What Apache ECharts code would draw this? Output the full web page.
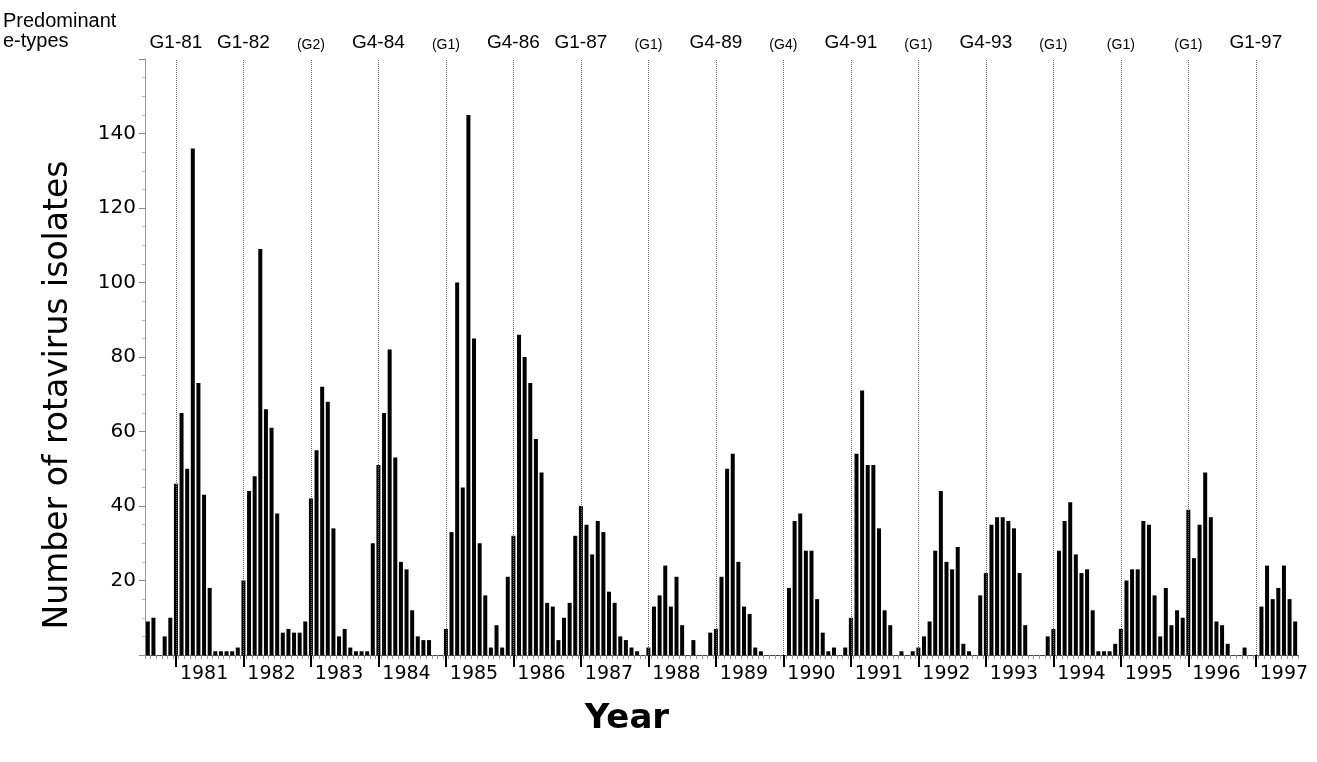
<!DOCTYPE html>
<html>
<head>
<meta charset="utf-8">
<script src="https://cdn.jsdelivr.net/npm/echarts@6/dist/echarts.min.js"></script>
<style>
html,body{margin:0;padding:0;background:#fff;}
#chart{width:1317px;height:762px;}
</style>
</head>
<body>
<div id="chart"></div>
<script>
// Monthly categories, July 1980 .. July 1997
const startYear = 1980, startMonth = 7, monthCount = 205;
const categories = [];
for (let i = 0; i < monthCount; i++) {
  const m0 = startMonth - 1 + i;
  const y = startYear + Math.floor(m0 / 12);
  const m = (m0 % 12) + 1;
  categories.push(y + '-' + (m < 10 ? '0' + m : '' + m));
}

// Number of rotavirus isolates per month
const isolates = [
  9,10,0,5,10,46,65,50,136,73,43,18,
  1,1,1,1,2,20,44,48,109,66,61,38,
  6,7,6,6,9,42,55,72,68,34,5,7,
  2,1,1,1,30,51,65,82,53,25,23,12,
  5,4,4,0,0,7,33,100,45,145,85,30,
  16,2,8,2,21,32,86,80,73,58,49,14,
  13,4,10,14,32,40,35,27,36,33,17,14,
  5,4,2,1,0,2,13,16,24,13,21,8,
  0,4,0,0,6,7,21,50,54,25,13,11,
  2,1,0,0,0,0,18,36,38,28,28,15,
  6,1,2,0,2,10,54,71,51,51,34,12,
  8,0,1,0,1,2,5,9,28,44,25,23,
  29,3,1,0,16,22,35,37,37,36,34,22,
  8,0,0,0,5,7,28,36,41,27,22,23,
  12,1,1,1,3,7,20,23,23,36,35,16,
  5,18,8,12,10,39,26,35,49,37,9,8,
  3,0,0,2,0,0,13,24,15,18,24,15,9
];

// Years (tick labels) and predominant e-types per year
const years = [1981,1982,1983,1984,1985,1986,1987,1988,1989,1990,1991,1992,1993,1994,1995,1996,1997];
const etypes = ['G1-81','G1-82','(G2)','G4-84','(G1)','G4-86','G1-87','(G1)','G4-89','(G4)','G4-91','(G1)','G4-93','(G1)','(G1)','(G1)','G1-97'];

const yTicks = [0,20,40,60,80,100,120,140,160];

const chart = echarts.init(document.getElementById('chart'), null, {renderer:'canvas'});

const yearSet = new Set(years.map(String));
const lineCats = years.map(y => (y - 1) + '-12');
const lineSet = new Set(lineCats);

const option = {
  animation: false,
  backgroundColor: '#fff',
  grid: {left: 145, right: 19, top: 59, bottom: 107},
  xAxis: [
    {
      type: 'category',
      data: categories,
      boundaryGap: true,
      axisLine: {show: true, lineStyle: {color: '#444', width: 1}},
      axisTick: {show: true, interval: 0, length: 4, lineStyle: {color: '#999', width: 1}},
      axisLabel: {
        interval: (i, v) => v.endsWith('-05') && yearSet.has(v.slice(0,4)),
        formatter: v => v.slice(0, 4),
        margin: 10,
        fontFamily: 'DejaVu Sans',
        fontSize: 19,
        color: '#000'
      },
      splitLine: {show: false}
    },
    {
      type: 'category',
      data: categories,
      position: 'bottom',
      boundaryGap: true,
      axisLine: {show: false},
      axisTick: {show: true, alignWithLabel: true, interval: (i, v) => lineSet.has(v), length: 12, lineStyle: {color: '#000', width: 2}},
      axisLabel: {show: false},
      splitLine: {show: false}
    }
  ],
  yAxis: {
    type: 'value',
    min: yTicks[0],
    max: yTicks[yTicks.length - 1],
    interval: 20,
    axisLine: {show: true, lineStyle: {color: '#999', width: 1}},
    axisTick: {show: true, length: 6, lineStyle: {color: '#888'}},
    minorTick: {show: true, splitNumber: 4, length: 3, lineStyle: {color: '#bbb'}},
    splitLine: {show: false},
    axisLabel: {
      formatter: v => (v === 0 || v === 160) ? '' : String(v),
      margin: 9,
      fontFamily: 'DejaVu Sans',
      fontSize: 20,
      color: '#000'
    }
  },
  series: [{
    type: 'bar',
    xAxisIndex: 0,
    data: isolates,
    barWidth: 4,
    itemStyle: {color: '#000'},
    markLine: {
      silent: true,
      symbol: ['none', 'none'],
      animation: false,
      lineStyle: {color: '#666', type: [1, 1], width: 1},
      label: {show: true, position: 'end', distance: 7, color: '#000', fontFamily: 'Liberation Sans'},
      data: etypes.map((t, k) => ({
        xAxis: lineCats[k],
        label: {formatter: t, fontSize: t.startsWith('(') ? 14 : 19}
      }))
    }
  }],
  graphic: [
    {type: 'text', left: 3, top: 11, style: {text: 'Predominant', font: '20px "Liberation Sans"', fill: '#000'}},
    {type: 'text', left: 3, top: 31, style: {text: 'e-types', font: '20px "Liberation Sans"', fill: '#000'}},
    {type: 'text', x: 58, y: 395, rotation: Math.PI / 2,
     style: {text: 'Number of rotavirus isolates', font: '33px "DejaVu Sans"', fill: '#000', textAlign: 'center', textVerticalAlign: 'middle'}},
    {type: 'text', x: 627, y: 719,
     style: {text: 'Year', font: 'bold 34px "DejaVu Sans"', fill: '#000', textAlign: 'center', textVerticalAlign: 'middle'}}
  ]
};
chart.setOption(option);
</script>
</body>
</html>
